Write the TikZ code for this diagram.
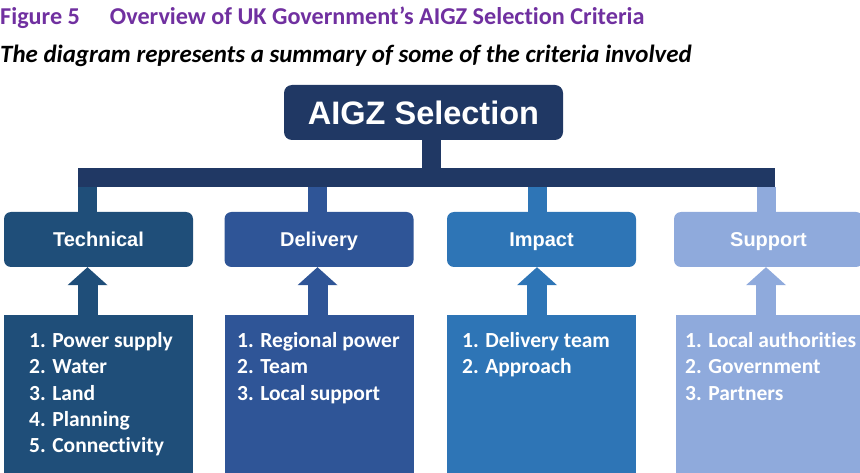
\documentclass[tikz,border=0pt]{standalone}
\usepackage{fontspec}
\setmainfont{Carlito}[Ligatures=NoCommon]
\newfontfamily\arialfont{Liberation Sans}
\usepackage{tikz}
\usetikzlibrary{arrows.meta}

\definecolor{titlepurple}{HTML}{7030A0}
\definecolor{navy}{HTML}{203864}
\definecolor{techblue}{HTML}{1F4E79}
\definecolor{delblue}{HTML}{2F5597}
\definecolor{impblue}{HTML}{2E75B6}
\definecolor{supblue}{HTML}{8FAADC}

\begin{document}
\begin{tikzpicture}
	[x=1pt,y=-1pt,
		head node/.style={rectangle,rounded corners=8pt,fill=navy,text=white,minimum width=279pt,minimum height=55pt,inner sep=0pt,font=\arialfont\bfseries\fontsize{32.5}{38}\selectfont},
		cat node/.style={rectangle,rounded corners=7pt,text=white,minimum width=189pt,minimum height=55pt,inner sep=0pt,text height=14.3pt,text depth=0pt,font=\arialfont\bfseries\fontsize{20}{24}\selectfont},
		list node/.style={rectangle,minimum width=189pt,minimum height=158pt,inner sep=0pt,anchor=north west},
		item text/.style={text=white,align=left,inner sep=0pt,anchor=north west,font=\bfseries\fontsize{21.5}{26.2}\selectfont},
		stem/.style={line width=19pt},
		up arrow/.style={line width=20pt,-{Triangle[width=40pt,length=18pt,line width=0pt]}}]

	\useasboundingbox (0,0) rectangle (860,473);

	\node[anchor=base west,inner sep=0pt,text=titlepurple,font=\bfseries\fontsize{24.2}{29}\selectfont] (title) at (0,25) {Figure 5\hspace{30pt}Overview of UK Government’s AIGZ Selection Criteria};
	\node[anchor=base west,inner sep=0pt,font=\bfseries\itshape\fontsize{24.9}{30}\selectfont] (subtitle) at (0,63) {The diagram represents a summary of some of the criteria involved};

	% top of the tree
	\node[head node] (top) at (423.5,112.5) {AIGZ Selection};
	\node[fill=navy,minimum width=697pt,minimum height=19pt,inner sep=0pt,anchor=north west] (bar) at (78,168) {};
	\coordinate (x0) at (431,0);
	\draw[stem,navy] (top.south -| x0) -- (bar.north -| x0);

	% one column per criterion
	\foreach \i/\cx/\sx/\lx/\tx/\col/\name/\items in {
		1/98.5/87.5/4/29/techblue/Technical/{1. Power supply\\2. Water\\3. Land\\4. Planning\\5. Connectivity},
		2/319/317.5/225/237/delblue/Delivery/{1. Regional power\\2. Team\\3. Local support},
		3/541.5/537/446.5/462/impblue/Impact/{1. Delivery team\\2. Approach},
		4/768.5/766/676/685/supblue/Support/{1. Local authorities\\2. Government\\3. Partners}}
	{
		\node[cat node,fill=\col] (cat\i) at (\cx,239.5) {\name};
		\node[list node,fill=\col] (list\i) at (\lx,315) {};
		\node[item text] (items\i) at (\tx,329.2) {\strut\items};
		\coordinate (x\i) at (\sx,0);
		\draw[stem,\col] (bar.south -| x\i) -- (cat\i.north -| x\i);
		\draw[up arrow,\col] (list\i.north -| x\i) -- (cat\i.south -| x\i);
	}
\end{tikzpicture}
\end{document}
